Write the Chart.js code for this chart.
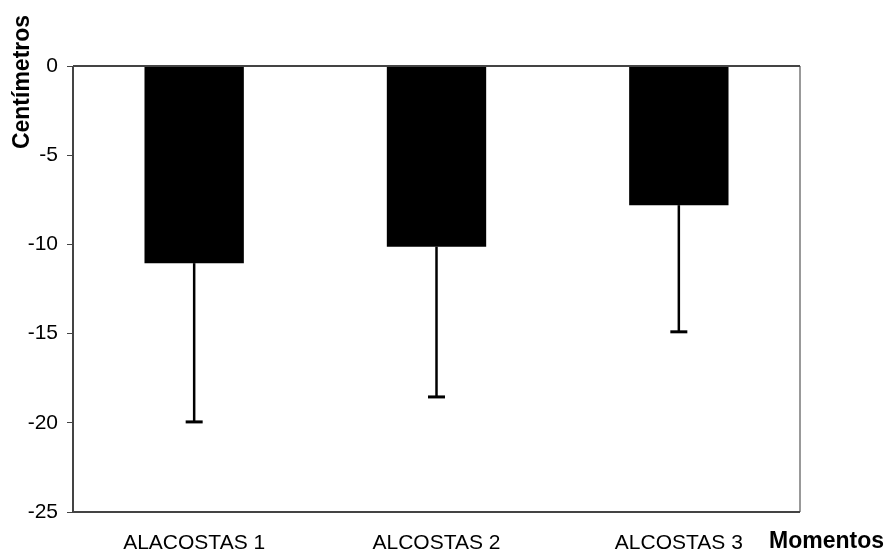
<!DOCTYPE html>
<html>
<head>
<meta charset="utf-8">
<script src="https://cdn.jsdelivr.net/npm/chart.js@4/dist/chart.umd.min.js"></script>
<style>
    html, body { margin: 0; padding: 0; background: #ffffff; }
    #wrap { width: 890px; height: 553px; }
</style>
</head>
<body>
<div id="wrap"><canvas id="momentosChart" width="890" height="553"></canvas></div>
<script>
var categories = ['ALACOSTAS 1', 'ALCOSTAS 2', 'ALCOSTAS 3'];
var meanValues = [-11.05, -10.13, -7.8];
var errorLow = [-19.95, -18.55, -14.9];
var yTicks = [0, -5, -10, -15, -20, -25];

var fontFamily = '"Liberation Sans", Arial, sans-serif';

// draws the error bars, plot border and the two axis titles
var extrasPlugin = {
    id: 'extras',
    afterDatasetsDraw: function(chart) {
        var ctx = chart.ctx;
        var xScale = chart.scales.x;
        var yScale = chart.scales.y;
        var area = chart.chartArea;

        ctx.save();
        ctx.strokeStyle = '#000000';
        ctx.lineWidth = 2.5;
        for (var i = 0; i < meanValues.length; i++) {
            var x = xScale.getPixelForValue(i);
            var yTop = yScale.getPixelForValue(meanValues[i]);
            var yEnd = yScale.getPixelForValue(errorLow[i]);
            ctx.beginPath();
            ctx.moveTo(x, yTop);
            ctx.lineTo(x, yEnd);
            ctx.stroke();
            ctx.lineWidth = 3;
            ctx.beginPath();
            ctx.moveTo(x - 8.5, yEnd);
            ctx.lineTo(x + 8.5, yEnd);
            ctx.stroke();
            ctx.lineWidth = 2.5;
        }

        // frame
        ctx.lineWidth = 1.5;
        ctx.strokeStyle = '#777777';
        ctx.beginPath();
        ctx.moveTo(area.right, area.top);
        ctx.lineTo(area.right, area.bottom);
        ctx.stroke();
        ctx.strokeStyle = '#444444';
        ctx.lineWidth = 2;
        ctx.beginPath();
        ctx.moveTo(area.left, area.top);
        ctx.lineTo(area.right, area.top);
        ctx.moveTo(area.left, area.bottom);
        ctx.lineTo(area.right, area.bottom);
        ctx.moveTo(area.left, area.top);
        ctx.lineTo(area.left, area.bottom);
        ctx.stroke();

        ctx.fillStyle = '#000000';
        ctx.font = 'bold 23px ' + fontFamily;
        ctx.textAlign = 'left';
        ctx.textBaseline = 'middle';
        ctx.fillText('Momentos', 769, 542);

        ctx.translate(23, 82);
        ctx.rotate(-Math.PI / 2);
        ctx.textAlign = 'center';
        ctx.fillText('Centímetros', 0, 0);
        ctx.restore();
    }
};

function renderChart() {
    var ctx = document.getElementById('momentosChart').getContext('2d');

    new Chart(ctx, {
        type: 'bar',
        data: {
            labels: categories,
            datasets: [{
                data: meanValues,
                backgroundColor: '#000000',
                borderWidth: 0,
                categoryPercentage: 1,
                barPercentage: 0.41
            }]
        },
        options: {
            responsive: false,
            animation: false,
            events: [],
            layout: {
                padding: { top: 66, right: 90, bottom: 0, left: 0 }
            },
            scales: {
                x: {
                    grid: { display: false, drawTicks: false },
                    border: { display: false },
                    ticks: {
                        color: '#000000',
                        font: { family: fontFamily, size: 21 },
                        padding: 19,
                        maxRotation: 0
                    },
                    afterFit: function(scale) {
                        scale.height = 41;
                    }
                },
                y: {
                    min: -25,
                    max: 0,
                    afterBuildTicks: function(scale) {
                        scale.ticks = yTicks.map(function(v) { return { value: v }; });
                    },
                    grid: {
                        drawOnChartArea: false,
                        drawTicks: true,
                        tickLength: 6,
                        color: '#444444'
                    },
                    border: { display: false },
                    ticks: {
                        color: '#000000',
                        font: { family: fontFamily, size: 21 },
                        padding: 9
                    },
                    afterFit: function(scale) {
                        scale.width = 73;
                    }
                }
            },
            plugins: {
                legend: { display: false },
                tooltip: { enabled: false }
            }
        },
        plugins: [extrasPlugin]
    });
}

window.onload = function() {
    renderChart();
};
</script>
</body>
</html>
